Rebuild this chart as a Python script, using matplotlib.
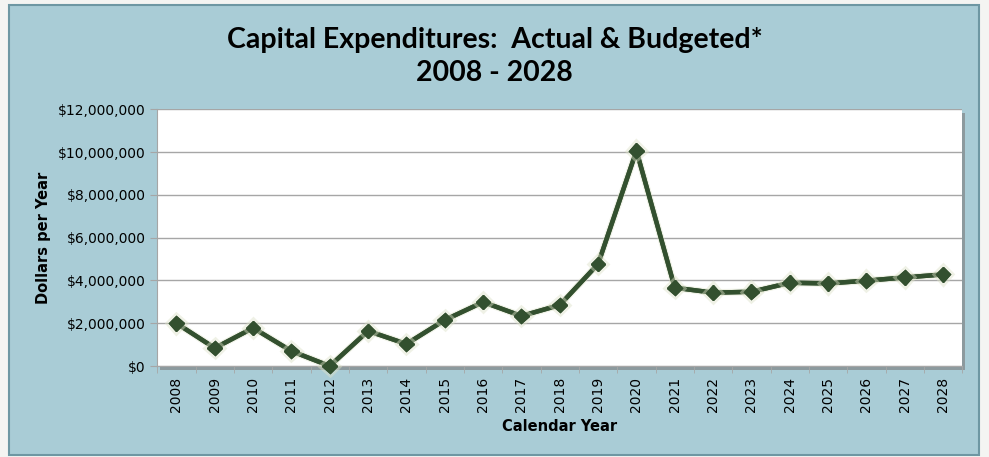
import matplotlib.pyplot as plt
import matplotlib.patheffects as pe
from matplotlib.patches import Rectangle
from matplotlib.ticker import FuncFormatter, FixedLocator

years = list(range(2008, 2029))
spending = [2000000, 840000, 1780000, 700000, 0, 1640000, 1030000,
            2150000, 2990000, 2340000, 2850000, 4770000, 10060000,
            3660000, 3430000, 3470000, 3890000, 3860000, 3990000,
            4140000, 4280000]
y_ticks = [0, 2000000, 4000000, 6000000, 8000000, 10000000, 12000000]

panel_color = '#A9CCD6'
line_color = '#33502F'

fig = plt.figure(figsize=(9.89, 4.57), dpi=100)
fig.patch.set_facecolor('#F4F4F2')

# chart frame
fig.patches.append(Rectangle((0.009, 0.004), 0.981, 0.985, transform=fig.transFigure,
                             facecolor=panel_color, edgecolor='#6E97A3', lw=1.5, zorder=-2))
# drop shadow of the plot area
fig.patches.append(Rectangle((0.162, 0.191), 0.814, 0.562, transform=fig.transFigure,
                             facecolor='#8C9A9E', edgecolor='none', zorder=-1))

ax = fig.add_axes([0.159, 0.199, 0.814, 0.562])
ax.set_zorder(1)
ax.set_facecolor('white')

x = list(range(len(years)))
ax.plot(x, spending, color=line_color, lw=3.2, marker='D', markersize=7.5,
        markerfacecolor=line_color, markeredgecolor=line_color, zorder=3, clip_on=False,
        path_effects=[pe.withStroke(linewidth=5, foreground='#DDE2C8', alpha=0.45), pe.Normal()])

ax.set_xlim(-0.5, len(years) - 0.5)
ax.set_ylim(0, 12000000)
ax.set_yticks(y_ticks)
ax.yaxis.set_major_formatter(FuncFormatter(lambda v, p: f"${v:,.0f}"))
ax.grid(axis='y', color='#A6A6A6', lw=1)
ax.set_axisbelow(True)

ax.set_xticks(x)
ax.set_xticklabels([str(yr) for yr in years], rotation=90, fontsize=10)
ax.xaxis.set_minor_locator(FixedLocator([i - 0.5 for i in range(len(years) + 1)]))
ax.tick_params(axis='x', which='major', length=0, pad=8)
ax.tick_params(axis='x', which='minor', length=5, color='#A6A6A6')
ax.tick_params(axis='y', length=5, color='#A6A6A6', labelsize=10)

for side in ['top', 'right']:
    ax.spines[side].set_visible(False)
ax.spines['left'].set_color('#A6A6A6')
ax.spines['bottom'].set_color('#A6A6A6')

ax.set_xlabel('Calendar Year', fontsize=10.5, fontweight='bold', labelpad=5)
ax.set_ylabel('Dollars per Year', fontsize=10.5, fontweight='bold', labelpad=5)

fig.text(0.5, 0.912, 'Capital Expenditures:  Actual & Budgeted*', ha='center', va='center',
         fontsize=20.5, fontweight='bold', family='Lato')
fig.text(0.5, 0.840, '2008 - 2028', ha='center', va='center',
         fontsize=20.5, fontweight='bold', family='Lato')

fig.savefig('out.png', dpi=100, facecolor=fig.get_facecolor())
